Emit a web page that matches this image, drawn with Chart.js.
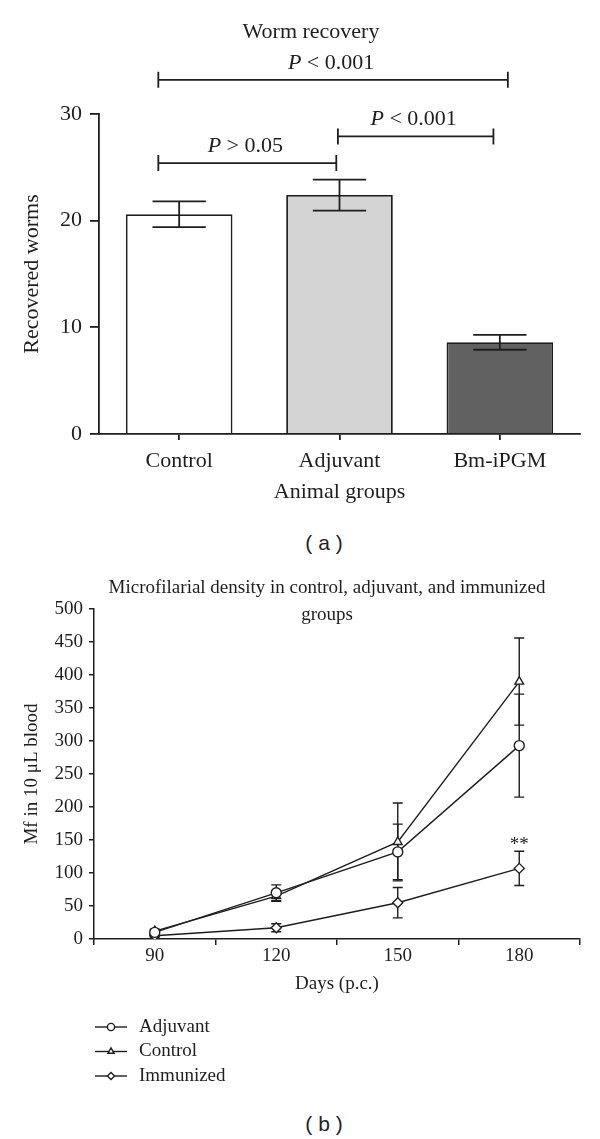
<!DOCTYPE html>
<html>
<head>
<meta charset="utf-8">
<title>Worm recovery / microfilarial density</title>
<script src="https://cdn.jsdelivr.net/npm/chart.js@4.4.1/dist/chart.umd.min.js"></script>
<style>
  html, body { margin: 0; padding: 0; background: #fff; }
  #page { position: relative; width: 600px; height: 1139px; overflow: hidden; }
  #chartA { position: absolute; left: 0; top: 0; }
  #chartB { position: absolute; left: 0; top: 560px; }
  .cap { position: absolute; width: 80px; text-align: center; font: 21px "Liberation Sans", Arial, sans-serif; color: #222; line-height: 24px; }
</style>
</head>
<body>
<div id="page">
  <canvas id="chartA" width="600" height="520"></canvas>
  <div class="cap" style="left:284px;top:531px;">( a )</div>
  <canvas id="chartB" width="600" height="540"></canvas>
  <div class="cap" style="left:284px;top:1112px;">( b )</div>
</div>
<script>
// (a) worm recovery
const groups = ['Control', 'Adjuvant', 'Bm-iPGM'];
const wormMeans = [20.6, 22.4, 8.6];
const wormErr = [1.2, 1.45, 0.7];
const barColors = ['#ffffff', '#d4d4d4', '#616161'];
const wormTicks = [0, 10, 20, 30];
// significance brackets: from / to (category index), height (worms), label
const sigFrom = [-0.13, -0.13, 0.99];
const sigTo = [2.05, 0.98, 1.96];
const sigLevel = [33.2, 25.4, 27.9];
const sigText = ['< 0.001', '> 0.05', '< 0.001'];

// (b) microfilarial density, mean and error per day
const days = ['90', '120', '150', '180'];
const adjMean = [10, 70, 132, 293];
const adjErr = [3, 12, 42, 78];
const ctrlMean = [12, 65, 147, 390];
const ctrlErr = [3, 8, 59, 66];
const immMean = [5, 17, 55, 107];
const immErr = [2, 6, 23, 26];
const mfTicks = [0, 50, 100, 150, 200, 250, 300, 350, 400, 450, 500];

const ink = '#1e1e1e';
const serif = '"Liberation Serif", "Times New Roman", serif';
Chart.defaults.font.family = serif;
Chart.defaults.color = ink;

// title drawn at a fixed spot (Chart.js title box can't be offset sideways)
const figTitle = {
  id: 'figTitle',
  afterDraw(chart, args, opts){
    const ctx = chart.ctx;
    ctx.save();
    ctx.fillStyle = ink; ctx.font = opts.size + 'px ' + serif;
    ctx.textAlign = 'center'; ctx.textBaseline = 'middle';
    opts.lines.forEach((t, i) => ctx.fillText(t, opts.x, opts.y + i * opts.gap));
    ctx.restore();
  }
};

function drawP(ctx, rest, cx, cy, size){
  const it = 'italic ' + size + 'px ' + serif, rm = size + 'px ' + serif;
  ctx.font = it; const wP = ctx.measureText('P').width;
  ctx.font = rm; const wR = ctx.measureText(' ' + rest).width;
  const left = cx - (wP + wR) / 2;
  ctx.textAlign = 'left'; ctx.textBaseline = 'middle';
  ctx.font = it; ctx.fillText('P', left, cy);
  ctx.font = rm; ctx.fillText(' ' + rest, left + wP, cy);
}

const errorBarsA = {
  id: 'errorBarsA',
  afterDatasetsDraw(chart){
    const {ctx, scales: {y}} = chart;
    const meta = chart.getDatasetMeta(0);
    ctx.save(); ctx.strokeStyle = ink; ctx.lineWidth = 1.8;
    meta.data.forEach((bar, i) => {
      const hi = y.getPixelForValue(wormMeans[i] + wormErr[i]);
      const lo = y.getPixelForValue(wormMeans[i] - wormErr[i]);
      const cap = bar.width / 4;
      ctx.beginPath();
      ctx.moveTo(bar.x, hi); ctx.lineTo(bar.x, lo);
      ctx.moveTo(bar.x - cap, hi); ctx.lineTo(bar.x + cap, hi);
      ctx.moveTo(bar.x - cap, lo); ctx.lineTo(bar.x + cap, lo);
      ctx.stroke();
    });
    ctx.restore();
  }
};

const bracketsA = {
  id: 'bracketsA',
  afterDraw(chart){
    const {ctx, scales: {x, y}} = chart;
    ctx.save(); ctx.strokeStyle = ink; ctx.fillStyle = ink; ctx.lineWidth = 1.8;
    sigLevel.forEach((lvl, i) => {
      const x0 = x.getPixelForValue(sigFrom[i]), x1 = x.getPixelForValue(sigTo[i]);
      const yy = y.getPixelForValue(lvl);
      ctx.beginPath();
      ctx.moveTo(x0, yy); ctx.lineTo(x1, yy);
      ctx.moveTo(x0, yy - 8); ctx.lineTo(x0, yy + 8);
      ctx.moveTo(x1, yy - 8); ctx.lineTo(x1, yy + 8);
      ctx.stroke();
      drawP(ctx, sigText[i], (x0 + x1) / 2 - 2, yy - 17, 22);
    });
    ctx.restore();
  }
};

const axisStyle = (size, tickLen, pad, lw, offsetGrid) => ({
  grid: { drawOnChartArea: false, drawTicks: true, tickLength: tickLen, color: ink, lineWidth: lw, offset: offsetGrid },
  border: { display: true, color: ink, width: lw },
  ticks: { color: ink, font: { family: serif, size: size }, padding: pad }
});

new Chart(document.getElementById('chartA'), {
  type: 'bar',
  data: {
    labels: groups,
    datasets: [{
      label: 'Recovered worms', data: wormMeans,
      backgroundColor: barColors, borderColor: ink, borderWidth: 1.8,
      barPercentage: 0.665, categoryPercentage: 1
    }]
  },
  options: {
    responsive: false, animation: false, devicePixelRatio: 1,
    layout: { padding: { left: 14, right: 20, top: 114, bottom: 14 } },
    plugins: {
      legend: { display: false }, tooltip: { enabled: false },
      figTitle: { lines: ['Worm recovery'], x: 311, y: 32, size: 22, gap: 0 }
    },
    scales: {
      x: Object.assign(axisStyle(22, 6, 8, 1.8, false), {
        title: { display: true, text: 'Animal groups', color: ink, font: { family: serif, size: 22 }, padding: { top: 0, bottom: 1 } },
        afterFit: s => { s.height = 72; }
      }),
      y: Object.assign(axisStyle(22, 9, 8, 1.8, false), {
        min: 0, max: 30,
        afterBuildTicks: s => { s.ticks = wormTicks.map(v => ({ value: v })); },
        title: { display: true, text: 'Recovered worms', color: ink, font: { family: serif, size: 22 }, padding: { top: 5, bottom: 0 } },
        afterFit: s => { s.width = 85; }
      })
    }
  },
  plugins: [errorBarsA, bracketsA, figTitle]
});

// (b)
const errorBarsB = {
  id: 'errorBarsB',
  beforeDatasetsDraw(chart){
    const {ctx, scales: {y}} = chart;
    ctx.save(); ctx.strokeStyle = ink; ctx.lineWidth = 1.4;
    chart.data.datasets.forEach((ds, di) => {
      chart.getDatasetMeta(di).data.forEach((pt, i) => {
        const hi = y.getPixelForValue(ds.data[i] + ds.errors[i]);
        const lo = y.getPixelForValue(ds.data[i] - ds.errors[i]);
        ctx.beginPath();
        ctx.moveTo(pt.x, hi); ctx.lineTo(pt.x, lo);
        ctx.moveTo(pt.x - 5, hi); ctx.lineTo(pt.x + 5, hi);
        ctx.moveTo(pt.x - 5, lo); ctx.lineTo(pt.x + 5, lo);
        ctx.stroke();
      });
    });
    ctx.restore();
  },
  afterDatasetsDraw(chart, args, opts){
    // significance stars above the immunized point
    const {ctx, scales: {y}} = chart;
    const ds = chart.data.datasets[opts.dataset];
    const pt = chart.getDatasetMeta(opts.dataset).data[opts.index];
    const top = y.getPixelForValue(ds.data[opts.index] + ds.errors[opts.index]);
    ctx.save(); ctx.fillStyle = ink; ctx.font = '19px ' + serif;
    ctx.textAlign = 'center'; ctx.textBaseline = 'alphabetic';
    ctx.fillText(opts.text, pt.x, top - 1);
    ctx.restore();
  }
};

const legendB = {
  id: 'legendB',
  afterDraw(chart, args, opts){
    const ctx = chart.ctx;
    ctx.save();
    chart.data.datasets.forEach((ds, i) => {
      const yy = opts.y + i * opts.gap;
      ctx.strokeStyle = ink; ctx.lineWidth = 1.4;
      ctx.beginPath(); ctx.moveTo(opts.x, yy); ctx.lineTo(opts.x + opts.len, yy); ctx.stroke();
      ctx.fillStyle = '#fff';
      Chart.helpers.drawPoint(ctx, { pointStyle: ds.pointStyle, radius: 3.6, borderWidth: 1.4, rotation: 0 }, opts.x + opts.len / 2, yy);
      ctx.fillStyle = ink; ctx.font = '19px ' + serif;
      ctx.textAlign = 'left'; ctx.textBaseline = 'middle';
      ctx.fillText(ds.label, opts.textX, yy);
    });
    ctx.restore();
  }
};

const lineStyle = style => ({
  pointStyle: style, pointRadius: 5, pointBackgroundColor: '#fff', pointBorderColor: ink,
  pointBorderWidth: 1.4, borderColor: ink, borderWidth: 1.4, backgroundColor: '#fff', fill: false, tension: 0
});

new Chart(document.getElementById('chartB'), {
  type: 'line',
  data: {
    labels: days,
    datasets: [
      Object.assign({ label: 'Adjuvant', data: adjMean, errors: adjErr }, lineStyle('circle')),
      Object.assign({ label: 'Control', data: ctrlMean, errors: ctrlErr }, lineStyle('triangle')),
      Object.assign({ label: 'Immunized', data: immMean, errors: immErr }, lineStyle('rectRot'))
    ]
  },
  options: {
    responsive: false, animation: false, devicePixelRatio: 1,
    layout: { padding: { left: 14, right: 20, top: 49, bottom: 101 } },
    plugins: {
      legend: { display: false }, tooltip: { enabled: false },
      figTitle: { lines: ['Microfilarial density in control, adjuvant, and immunized', 'groups'], x: 327, y: 28, size: 19, gap: 27 },
      errorBarsB: { dataset: 2, index: 3, text: '**' },
      legendB: { x: 95, y: 467, gap: 24.5, len: 32, textX: 139 }
    },
    scales: {
      x: Object.assign(axisStyle(19, 6, 0, 1.5, true), {
        offset: true,
        title: { display: true, text: 'Days (p.c.)', color: ink, font: { family: serif, size: 19 }, padding: { top: 0, bottom: 4 } },
        afterFit: s => { s.height = 60; }
      }),
      y: Object.assign(axisStyle(19, 5, 6, 1.5, false), {
        min: 0, max: 500,
        afterBuildTicks: s => { s.ticks = mfTicks.map(v => ({ value: v })); },
        title: { display: true, text: 'Mf in 10 μL blood', color: ink, font: { family: serif, size: 19 }, padding: { top: 7, bottom: 0 } },
        afterFit: s => { s.width = 80; }
      })
    }
  },
  plugins: [errorBarsB, legendB, figTitle]
});
</script>
</body>
</html>
